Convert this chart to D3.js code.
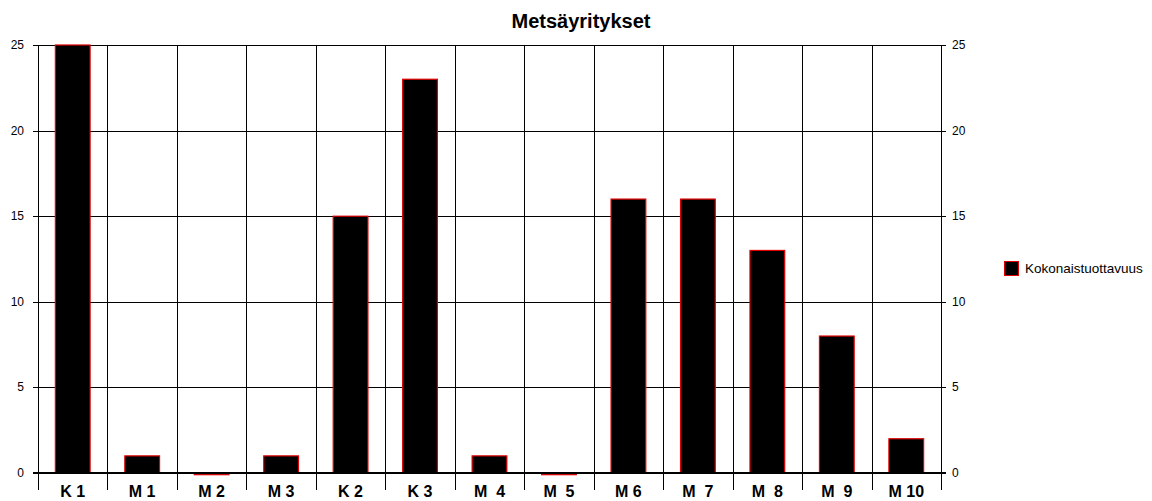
<!DOCTYPE html>
<html><head><meta charset="utf-8">
<script src="https://cdn.jsdelivr.net/npm/d3@7/dist/d3.min.js"></script>
<style>body{margin:0;background:#fff}svg{display:block;font-family:"Liberation Sans",Arial,sans-serif}</style>
</head><body><svg id="c" width="1152" height="501"></svg>
<script>
const categories = ["K 1","M 1","M 2","M 3","K 2","K 3","M  4","M  5","M 6","M  7","M  8","M  9","M 10"];
const values = [25,1,-0.1,1,15,23,1,-0.1,16,16,13,8,2];
const yTicks = [0,5,10,15,20,25];
const seriesName = "Kokonaistuottavuus";
const title = "Metsäyritykset";

const svg = d3.select("#c");
const L=38, R=941, T=45, B=473;
const x = d3.scaleBand().domain(categories).range([L,R]).paddingInner(0).paddingOuter(0);
const y = d3.scaleLinear().domain([0,25]).range([B,T]);

svg.append("g").selectAll("line").data(yTicks).join("line")
  .attr("x1",L-5).attr("x2",R+5).attr("y1",d=>Math.round(y(d))+0.5).attr("y2",d=>Math.round(y(d))+0.5)
  .attr("stroke","#000").attr("stroke-width",1);
const bounds = categories.map(c=>x(c)).concat([R]);
svg.append("g").selectAll("line").data(bounds).join("line")
  .attr("x1",d=>Math.round(d)+0.5).attr("x2",d=>Math.round(d)+0.5).attr("y1",T).attr("y2",490)
  .attr("stroke","#000").attr("stroke-width",1);

const bw = x.bandwidth()*0.5;
svg.append("g").selectAll("rect").data(values).join("rect")
  .attr("x",(d,i)=>x(categories[i])+(x.bandwidth()-bw)/2)
  .attr("width",bw)
  .attr("y",d=>Math.min(y(d),y(0)))
  .attr("height",d=>Math.abs(y(d)-y(0)))
  .attr("fill","#000").attr("stroke","#e00000").attr("stroke-width",1.2);

svg.append("line").attr("x1",L-5).attr("x2",R+5).attr("y1",y(0)).attr("y2",y(0)).attr("stroke","#000").attr("stroke-width",2);

svg.append("g").selectAll("text").data(yTicks).join("text")
  .attr("x",24).attr("y",d=>y(d)+4).attr("text-anchor","end").attr("font-size",12).text(d=>d);
svg.append("g").selectAll("text").data(yTicks).join("text")
  .attr("x",952).attr("y",d=>y(d)+4).attr("text-anchor","start").attr("font-size",12).text(d=>d);

svg.append("g").selectAll("text").data(categories).join("text")
  .attr("x",d=>x(d)+x.bandwidth()/2).attr("y",497).attr("text-anchor","middle")
  .attr("font-size",16).attr("font-weight","bold").style("white-space","pre").attr("xml:space","preserve").text(d=>d);

svg.append("text").attr("x",581).attr("y",28).attr("text-anchor","middle").attr("font-size",20).attr("font-weight","bold").text(title);

svg.append("rect").attr("x",1004.5).attr("y",261.5).attr("width",14).attr("height",14).attr("fill","#000").attr("stroke","#e00000").attr("stroke-width",1);
svg.append("text").attr("x",1025).attr("y",273).attr("font-size",13.5).text(seriesName);
</script></body></html>
